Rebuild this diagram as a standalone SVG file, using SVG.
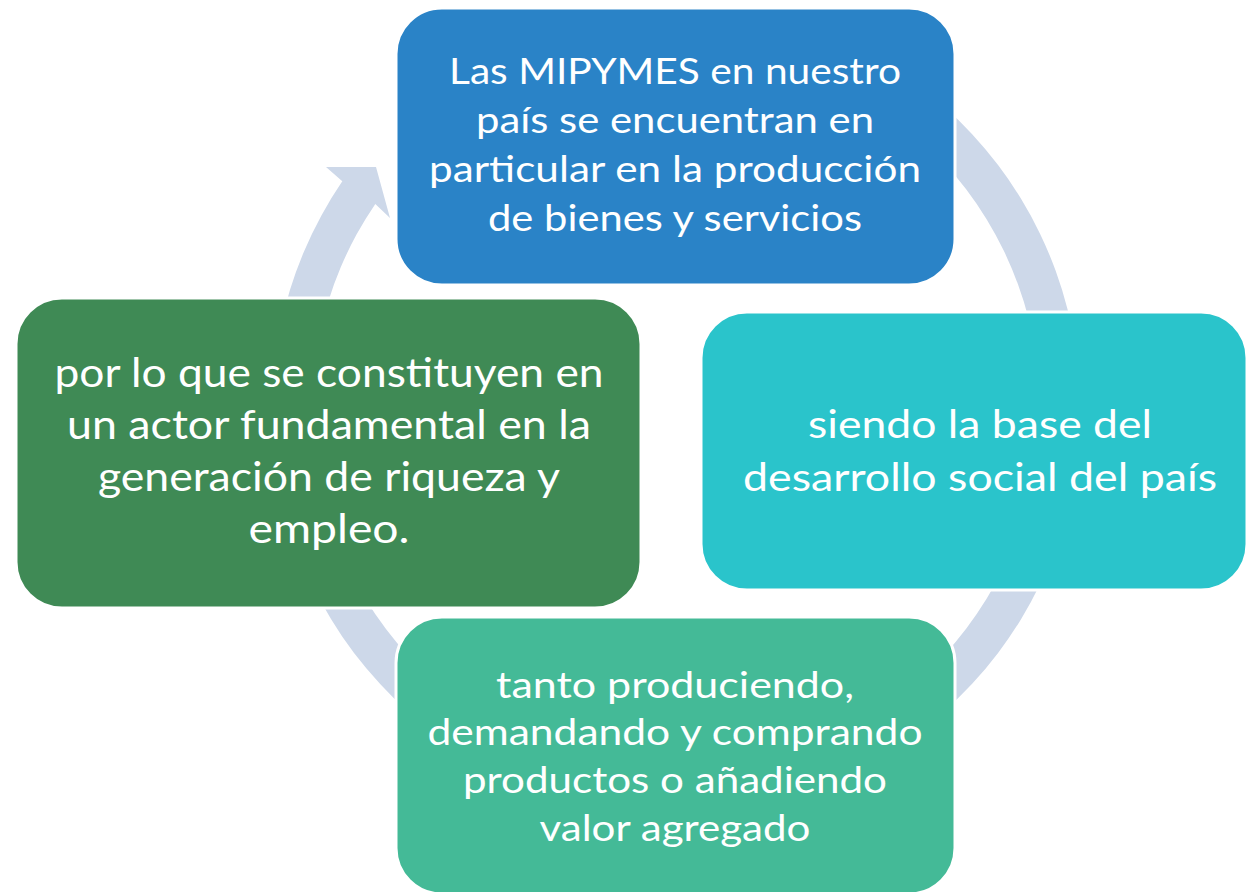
<svg xmlns="http://www.w3.org/2000/svg" width="1248" height="892" viewBox="0 0 1248 892">
<style>
.box{stroke:#FFFFFF;stroke-width:3}
.t{font-family:Lato,"Liberation Sans",sans-serif;fill:#FFFFFF;text-anchor:middle}
</style>
<rect width="1248" height="892" fill="#FFFFFF"/>
<g id="connectors">
<path d="M878,59.1 A404,404 0 1 1 342.3,181.3 L326,167 L376,167 L390,218 L375.3,203.9 A364,364 0 1 0 858,93.8 Z" fill="#CDD8E9"/>
</g>
<g id="node-top">
<rect class="box" x="396" y="8" width="559" height="277" rx="46" fill="#2A83C7"/>
<text class="t" font-size="37"><tspan x="675" y="84" textLength="452" lengthAdjust="spacingAndGlyphs">Las MIPYMES en nuestro</tspan><tspan x="675" y="133" textLength="398" lengthAdjust="spacingAndGlyphs">país se encuentran en</tspan><tspan x="675" y="182" textLength="492" lengthAdjust="spacingAndGlyphs">particular en la producción</tspan><tspan x="675" y="231" textLength="374" lengthAdjust="spacingAndGlyphs">de bienes y servicios</tspan></text>
</g>
<g id="node-right">
<rect class="box" x="701" y="312" width="546" height="278" rx="46" fill="#2AC4CB"/>
<text class="t" font-size="38"><tspan x="980" y="438" textLength="344" lengthAdjust="spacingAndGlyphs">siendo la base del</tspan><tspan x="980" y="491" textLength="474" lengthAdjust="spacingAndGlyphs">desarrollo social del país</tspan></text>
</g>
<g id="node-bottom">
<rect class="box" x="396" y="617" width="559" height="277" rx="46" fill="#44BA97"/>
<text class="t" font-size="37"><tspan x="675" y="698" textLength="358" lengthAdjust="spacingAndGlyphs">tanto produciendo,</tspan><tspan x="675" y="745" textLength="495" lengthAdjust="spacingAndGlyphs">demandando y comprando</tspan><tspan x="675" y="793" textLength="424" lengthAdjust="spacingAndGlyphs">productos o añadiendo</tspan><tspan x="675" y="841" textLength="271" lengthAdjust="spacingAndGlyphs">valor agregado</tspan></text>
</g>
<g id="node-left">
<rect class="box" x="16" y="298" width="625" height="310" rx="46" fill="#3F8A55"/>
<text class="t" font-size="40"><tspan x="329" y="387" textLength="549" lengthAdjust="spacingAndGlyphs">por lo que se constituyen en</tspan><tspan x="329" y="439" textLength="524" lengthAdjust="spacingAndGlyphs">un actor fundamental en la</tspan><tspan x="329" y="491" textLength="462" lengthAdjust="spacingAndGlyphs">generación de riqueza y</tspan><tspan x="329" y="543" textLength="161" lengthAdjust="spacingAndGlyphs">empleo.</tspan></text>
</g>
</svg>
